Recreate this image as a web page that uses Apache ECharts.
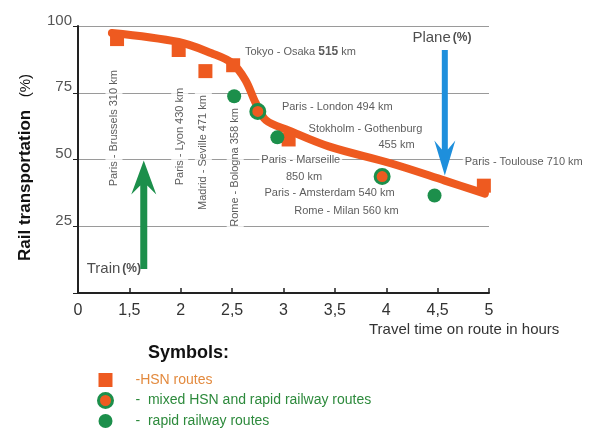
<!DOCTYPE html>
<html><head><meta charset="utf-8">
<script src="https://cdn.jsdelivr.net/npm/echarts@6/dist/echarts.min.js"></script>
<style>html,body{margin:0;padding:0;background:#fff}#c{width:590px;height:428px}</style>
</head><body><div id="c"></div>
<script>
// ---- axis ticks ----
const xTickValues = [1, 1.5, 2, 2.5, 3, 3.5, 4, 4.5, 5];
const xTickLabels = ['0', '1,5', '2', '2,5', '3', '3,5', '4', '4,5', '5'];
const yTickValues = [25, 50, 75, 100];

// ---- point series (travel time h, rail share %) ----
const hsnX = [1.38, 1.98, 2.24, 2.51, 3.05, 4.95];
const hsnY = [95.1, 91.0, 83.1, 85.3, 57.5, 40.2];
const mixedX = [2.75, 3.96];
const mixedY = [68.0, 43.6];
const rapidX = [2.52, 2.94, 4.47];
const rapidY = [73.7, 58.3, 36.5];

// ---- trend curve ----
const trendX = [1.33, 1.98, 2.30, 2.50, 2.63, 2.73, 2.83, 3.05, 3.44, 4.05, 4.57, 4.96];
const trendY = [97.4, 94.0, 89.8, 86.1, 79.7, 71.1, 64.7, 60.9, 54.9, 48.5, 42.1, 37.2];

// ---- route labels ----
const vertLabels = ['Paris - Brussels 310 km', 'Paris - Lyon 430 km', 'Madrid - Seville 471 km', 'Rome - Bologna 358 km'];
const vertLabelX = [1.35, 1.99, 2.22, 2.53];
const vertLabelY = [61.7, 58.6, 52.6, 47.0];

const noteLabels = ['{a|Tokyo - Osaka }{b|515}{a| km}', 'Paris - London 494 km', 'Stokholm - Gothenburg', '455 km',
  'Paris - Marseille', '850 km', 'Paris - Amsterdam 540 km', 'Rome - Milan 560 km', 'Paris - Toulouse 710 km'];
const noteLabelX = [2.60, 2.96, 3.22, 3.90, 2.76, 3.00, 2.79, 3.08, 4.74];
const noteLabelY = [90.2, 69.5, 61.3, 55.3, 50.0, 43.6, 37.6, 30.8, 48.9];

const modeLabels = ['{n|Train}{p|(%)}', '{n|Plane}{p|(%)}'];
const modeLabelX = [1.08, 4.25];
const modeLabelY = [9.0, 95.5];

// ---- arrows: x, from, to(tip) ----
const arrowX = [1.64, 4.57];
const arrowFrom = [9.0, 91.0];
const arrowTo = [49.6, 44.0];

const legendNames = ['HSN routes', 'mixed HSN and rapid railway routes', 'rapid railway routes'];

const FONT = 'Liberation Sans, Arial, sans-serif';
const ORANGE = '#ee5a20';
const GREEN = '#1c8f4b';
const BLUE = '#1e8fdc';

const zip = (a, b) => a.map((v, i) => [v, b[i]]);

const chart = echarts.init(document.getElementById('c'), null, {renderer: 'canvas'});
chart.setOption({
  animation: false,
  backgroundColor: '#fff',
  textStyle: {fontFamily: FONT},
  grid: {left: 78, right: 101, top: 26, bottom: 135, containLabel: false},
  title: {text: 'Symbols:', left: 148, top: 344, padding: 0,
    textStyle: {fontSize: 18, fontWeight: 'bold', color: '#111', fontFamily: FONT}},
  legend: {
    orient: 'vertical', left: 97, top: 373, itemWidth: 14, itemHeight: 14, itemGap: 5,
    selectedMode: false, padding: 0,
    data: [
      {name: legendNames[0], textStyle: {color: '#e38a3e'}},
      {name: legendNames[1], textStyle: {color: '#2d8a3c'}, itemStyle: {color: ORANGE, borderColor: GREEN, borderWidth: 3}},
      {name: legendNames[2], textStyle: {color: '#2d8a3c'}}
    ],
    formatter: n => (n === legendNames[0] ? '-' : '-  ') + n,
    textStyle: {fontSize: 14, fontFamily: FONT, padding: [0, 0, 0, 18]}
  },
  graphic: [
    {type: 'text', left: 369, top: 322, style: {text: 'Travel time on route in hours', fontSize: 15, fill: '#333', fontFamily: FONT}}
  ],
  xAxis: {
    type: 'value', min: 1, max: 5, interval: 0.5,
    axisLine: {show: true, onZero: false, lineStyle: {color: '#222', width: 2}},
    axisTick: {show: true, inside: true, length: 5, lineStyle: {color: '#222', width: 1.5}},
    axisLabel: {fontSize: 16, color: '#333', margin: 10, fontFamily: FONT,
      formatter: v => { const i = xTickValues.findIndex(t => Math.abs(t - v) < 1e-6); return i >= 0 ? xTickLabels[i] : ''; }},
    splitLine: {show: false}
  },
  yAxis: {
    type: 'value', min: 0, max: 100, interval: 25,
    name: '{b|Rail transportation}{n|   (%)}', nameLocation: 'middle', nameRotate: 90, nameGap: 44,
    nameTextStyle: {padding: [0, 16, 0, 0],
      rich: {b: {fontSize: 17, fontWeight: 'bold', color: '#111', fontFamily: FONT}, n: {fontSize: 15, color: '#111', fontFamily: FONT}}},
    axisLine: {show: true, lineStyle: {color: '#222', width: 2}},
    axisTick: {show: true, length: 5, lineStyle: {color: '#222', width: 1}},
    axisLabel: {fontSize: 15, color: '#555', margin: 6, fontFamily: FONT, verticalAlign: 'bottom', lineHeight: 11,
      formatter: v => yTickValues.indexOf(v) >= 0 ? String(v) : ''},
    splitLine: {show: true, lineStyle: {color: '#9a9a9a', width: 1}}
  },
  series: [
    {
      name: 'vlabels', type: 'scatter', z: 1, silent: true, symbolSize: 1,
      itemStyle: {color: 'rgba(0,0,0,0)'},
      data: vertLabelX.map((x, i) => ({value: [x, vertLabelY[i]], name: vertLabels[i]})),
      label: {show: true, position: 'inside', rotate: 90, formatter: p => p.name,
        fontSize: 11, color: '#333', fontFamily: FONT, backgroundColor: '#fff', padding: [3, 2]}
    },
    {
      name: 'notes', type: 'scatter', z: 1, silent: true, symbolSize: 1,
      itemStyle: {color: 'rgba(0,0,0,0)'},
      data: noteLabelX.map((x, i) => ({value: [x, noteLabelY[i]], name: noteLabels[i]})),
      label: {show: true, position: 'right', distance: 0, formatter: p => p.name,
        fontSize: 11, color: '#333', fontFamily: FONT, backgroundColor: '#fff', padding: [1, 2],
        rich: {a: {fontSize: 11, color: '#333', fontFamily: FONT}, b: {fontSize: 12, fontWeight: 'bold', color: '#333', fontFamily: FONT}}}
    },
    {
      name: 'modes', type: 'scatter', z: 1, silent: true, symbolSize: 1,
      itemStyle: {color: 'rgba(0,0,0,0)'},
      data: modeLabelX.map((x, i) => ({value: [x, modeLabelY[i]], name: modeLabels[i]})),
      label: {show: true, position: 'right', distance: 0, formatter: p => p.name,
        rich: {n: {fontSize: 15, color: '#222', fontFamily: FONT}, p: {fontSize: 12, fontWeight: 'bold', color: '#222', fontFamily: FONT, padding: [0, 0, 0, 2]}}}
    },
    {
      name: 'arrows', type: 'custom', z: 2, silent: true,
      data: arrowX.map((x, i) => [x, arrowFrom[i], arrowTo[i]]),
      encode: {x: 0, y: [1, 2]},
      renderItem: (params, api) => {
        const i = params.dataIndex;
        const x = api.value(0);
        const p0 = api.coord([x, api.value(1)]);
        const p1 = api.coord([x, api.value(2)]);
        const color = i === 0 ? GREEN : BLUE;
        const sw = i === 0 ? 7 : 6, hw = i === 0 ? 25 : 21, hl = i === 0 ? 34 : 35, notch = 9;
        const dir = p1[1] < p0[1] ? -1 : 1;
        const barbY = p1[1] - dir * hl;
        const neckY = barbY + dir * notch;
        const cx = p1[0];
        return {
          type: 'polygon',
          shape: {points: [[cx - sw / 2, p0[1]], [cx - sw / 2, neckY], [cx - hw / 2, barbY], [cx, p1[1]],
            [cx + hw / 2, barbY], [cx + sw / 2, neckY], [cx + sw / 2, p0[1]]]},
          style: {fill: color}
        };
      }
    },
    {
      name: 'trend', type: 'line', z: 3, silent: true, smooth: 0.35, symbol: 'none',
      lineStyle: {color: ORANGE, width: 8, cap: 'round'},
      data: zip(trendX, trendY)
    },
    {
      name: legendNames[0], type: 'scatter', z: 4, symbol: 'rect', symbolSize: 14,
      itemStyle: {color: ORANGE, opacity: 1},
      data: zip(hsnX, hsnY)
    },
    {
      name: legendNames[1], type: 'scatter', z: 4, symbol: 'circle', symbolSize: 14,
      itemStyle: {color: ORANGE, borderColor: GREEN, borderWidth: 3, opacity: 1},
      data: zip(mixedX, mixedY)
    },
    {
      name: legendNames[2], type: 'scatter', z: 4, symbol: 'circle', symbolSize: 14,
      itemStyle: {color: GREEN, opacity: 1},
      data: zip(rapidX, rapidY)
    }
  ]
});
</script></body></html>
